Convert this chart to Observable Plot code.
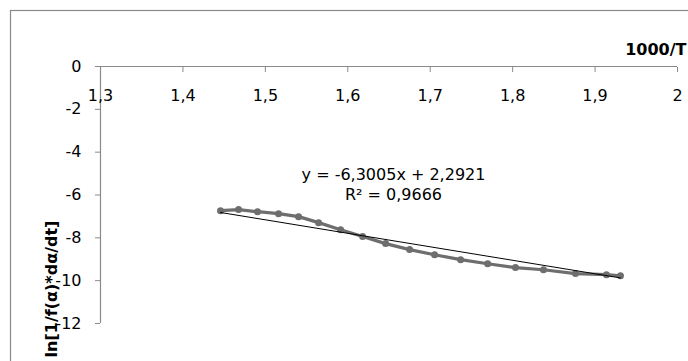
<!DOCTYPE html>
<html>
<head>
<meta charset="utf-8">
<script src="https://cdn.jsdelivr.net/npm/d3@7"></script>
<script src="https://cdn.jsdelivr.net/npm/@observablehq/plot@0.6"></script>
<style>
  html, body { margin: 0; padding: 0; background: white; overflow: hidden; }
</style>
</head>
<body>
<div id="chart"></div>
<script>
// ---- data ----
const invT = [1.4456, 1.4675, 1.4905, 1.5160, 1.5403, 1.5646, 1.5913, 1.6180, 1.6459,
              1.6750, 1.7053, 1.7369, 1.7697, 1.8034, 1.8374, 1.8762, 1.9138, 1.9308];
const lnRate = [-6.73, -6.68, -6.78, -6.87, -7.01, -7.29, -7.62, -7.94, -8.27,
                -8.55, -8.79, -9.02, -9.21, -9.39, -9.49, -9.67, -9.72, -9.77];
const slope = -6.3005;
const intercept = 2.2921;
const eqText = "y = -6,3005x + 2,2921";
const r2Text = "R² = 0,9666";
const xTicks = [1.3, 1.4, 1.5, 1.6, 1.7, 1.8, 1.9, 2.0];
const xTickLabels = ["1,3", "1,4", "1,5", "1,6", "1,7", "1,8", "1,9", "2"];
const yTicks = [0, -2, -4, -6, -8, -10, -12];
const yTickLabels = ["0", "-2", "-4", "-6", "-8", "-10", "-12"];
const xTitle = "1000/T";
const yTitle = "ln[1/f(α)*dα/dt]";

// ---- derived tables ----
const points = invT.map((x, i) => ({x, y: lnRate[i]}));
const xExt = d3.extent(invT);
const trend = xExt.map(x => ({x, y: slope * x + intercept}));

const axisGray = "#8a8a8a";
const seriesGray = "#6e6e6e";

const chart = Plot.plot({
  width: 688,
  height: 361,
  marginLeft: 100,
  marginRight: 11,
  marginTop: 66,
  marginBottom: 38,
  style: {fontFamily: "'DejaVu Sans', sans-serif", fontSize: "16px", color: "#000", background: "white"},
  x: {domain: [1.3, 2.0]},
  y: {domain: [-12, 0]},
  marks: [
    // outer chart border
    Plot.frame({insetLeft: -90, insetTop: -56, insetRight: -40, insetBottom: -60, stroke: axisGray, strokeWidth: 1.2}),
    // axis lines
    Plot.ruleY([0], {stroke: axisGray, strokeWidth: 1.2}),
    Plot.ruleX([1.3], {stroke: axisGray, strokeWidth: 1.2}),
    // x ticks (pointing down from the zero line)
    Plot.axisX({anchor: "top", ticks: xTicks, tickSize: 5, dy: 5, tickFormat: () => "", label: null, stroke: axisGray}),
    Plot.text(xTicks, {x: d => d, frameAnchor: "top", dy: 23, text: (d, i) => xTickLabels[i], fill: "#000"}),
    // y axis ticks and labels
    Plot.axisY({anchor: "left", ticks: yTicks, tickSize: 5, tickPadding: 14, label: null, stroke: axisGray,
                tickFormat: d => yTickLabels[yTicks.indexOf(d)]}),
    // titles
    Plot.text([xTitle], {frameAnchor: "top-right", textAnchor: "end", dx: 9, dy: -23, fontWeight: "bold", text: d => d}),
    Plot.text([yTitle], {frameAnchor: "left", textAnchor: "middle", rotate: -90, dx: -49, dy: 94, fontWeight: "bold", text: d => d}),
    // data series
    Plot.line(points, {x: "x", y: "y", stroke: seriesGray, strokeWidth: 3.2}),
    Plot.dot(points, {x: "x", y: "y", r: 3.5, fill: seriesGray}),
    // linear trend line
    Plot.line(trend, {x: "x", y: "y", stroke: "#000", strokeWidth: 1}),
    // equation annotation
    Plot.text([eqText], {frameAnchor: "top-left", textAnchor: "middle", dx: 293, dy: 102, text: d => d}),
    Plot.text([r2Text], {frameAnchor: "top-left", textAnchor: "middle", dx: 293, dy: 122, text: d => d})
  ]
});
document.getElementById("chart").appendChild(chart);
</script>
</body>
</html>
